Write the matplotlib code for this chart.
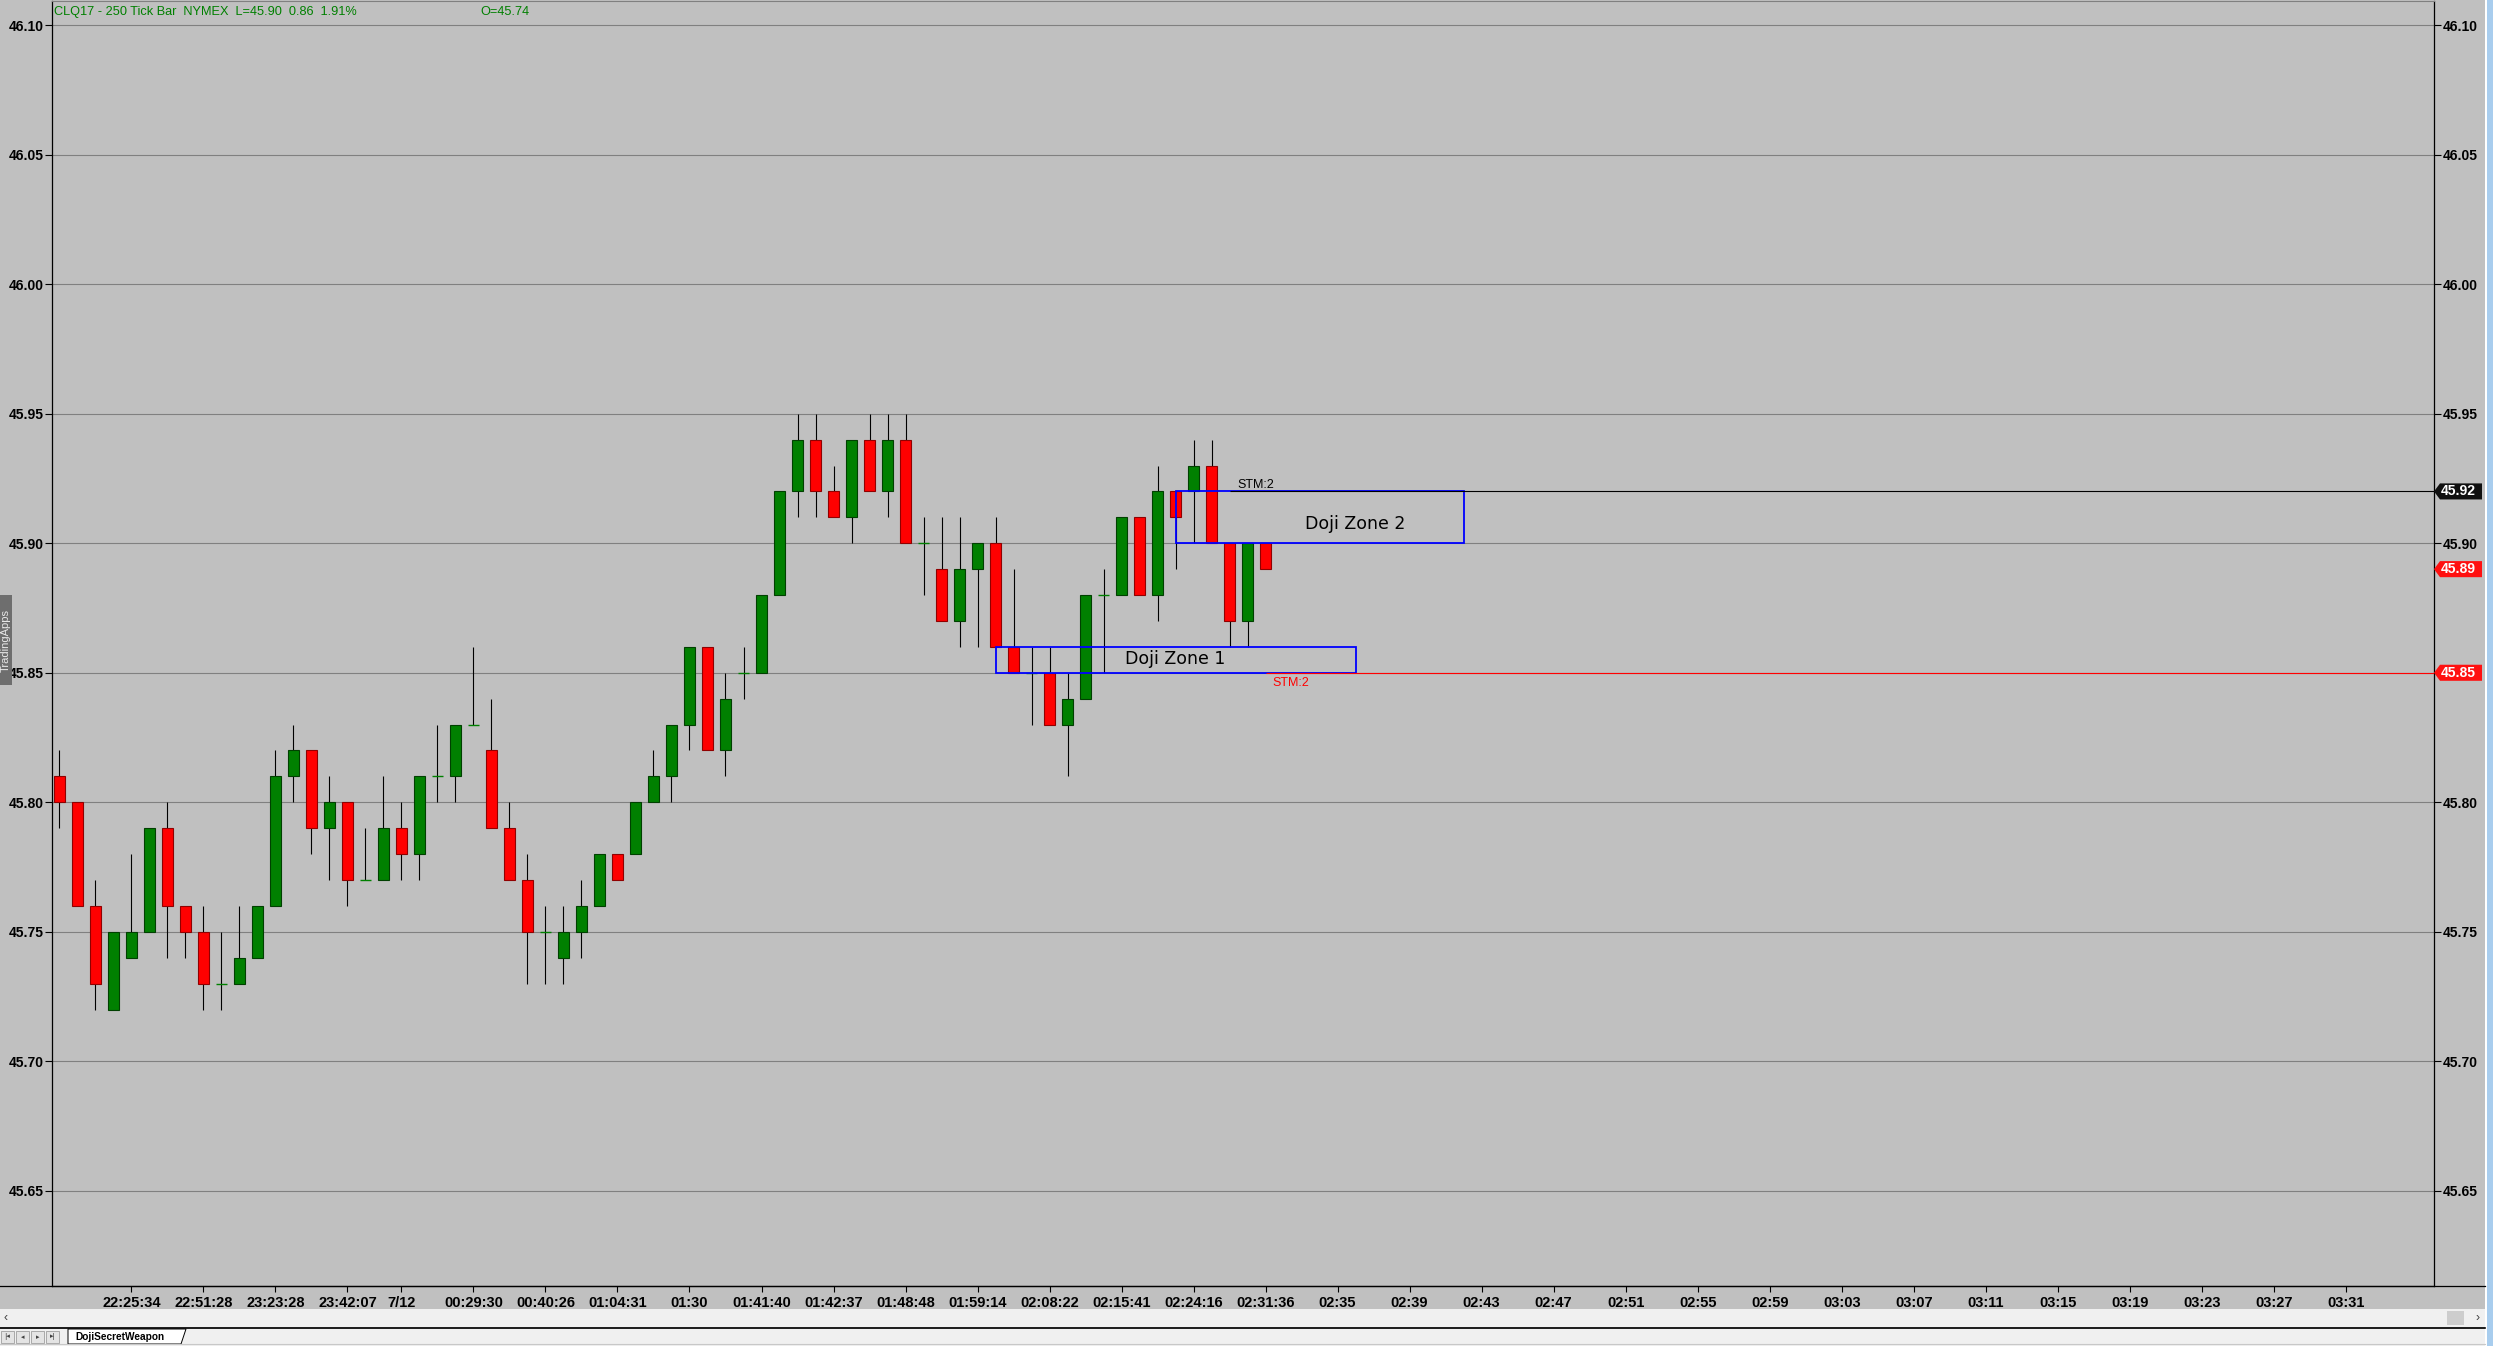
"""Recreate the CLQ17 250-tick candlestick chart with the two doji zones."""

import matplotlib
matplotlib.use("Agg")
import matplotlib.pyplot as plt
import matplotlib.transforms as mtransforms
from matplotlib.lines import Line2D
from matplotlib.patches import Polygon, Rectangle
import numpy as np

W, H = 2493, 1346

# --- OHLC per bar (bar 0 = leftmost) ---------------------------------------
opens = [45.81, 45.80, 45.76, 45.72, 45.74, 45.75, 45.79, 45.76, 45.75, 45.73,
         45.73, 45.74, 45.76, 45.81, 45.82, 45.79, 45.80, 45.77, 45.77, 45.79,
         45.78, 45.81, 45.81, 45.83, 45.82, 45.79, 45.77, 45.75, 45.74, 45.75,
         45.76, 45.78, 45.78, 45.80, 45.81, 45.83, 45.86, 45.82, 45.85, 45.85,
         45.88, 45.92, 45.94, 45.92, 45.91, 45.94, 45.92, 45.94, 45.90, 45.89,
         45.87, 45.89, 45.90, 45.86, 45.85, 45.85, 45.83, 45.84, 45.88, 45.88,
         45.91, 45.88, 45.92, 45.92, 45.93, 45.90, 45.87, 45.90]
highs = [45.82, 45.80, 45.77, 45.75, 45.78, 45.79, 45.80, 45.76, 45.76, 45.75,
         45.76, 45.76, 45.82, 45.83, 45.82, 45.81, 45.80, 45.79, 45.81, 45.80,
         45.81, 45.83, 45.83, 45.86, 45.84, 45.80, 45.78, 45.76, 45.76, 45.77,
         45.78, 45.78, 45.80, 45.82, 45.83, 45.86, 45.86, 45.85, 45.86, 45.88,
         45.92, 45.95, 45.95, 45.93, 45.94, 45.95, 45.95, 45.95, 45.91, 45.91,
         45.91, 45.90, 45.91, 45.89, 45.86, 45.86, 45.85, 45.88, 45.89, 45.91,
         45.91, 45.93, 45.92, 45.94, 45.94, 45.90, 45.90, 45.90]
lows = [45.79, 45.76, 45.72, 45.72, 45.74, 45.75, 45.74, 45.74, 45.72, 45.72,
        45.73, 45.74, 45.76, 45.80, 45.78, 45.77, 45.76, 45.77, 45.77, 45.77,
        45.77, 45.80, 45.80, 45.83, 45.79, 45.77, 45.73, 45.73, 45.73, 45.74,
        45.76, 45.77, 45.78, 45.80, 45.80, 45.82, 45.82, 45.81, 45.84, 45.85,
        45.88, 45.91, 45.91, 45.91, 45.90, 45.92, 45.91, 45.90, 45.88, 45.87,
        45.86, 45.86, 45.86, 45.85, 45.83, 45.83, 45.81, 45.84, 45.85, 45.88,
        45.88, 45.87, 45.89, 45.90, 45.90, 45.86, 45.86, 45.89]
closes = [45.80, 45.76, 45.73, 45.75, 45.75, 45.79, 45.76, 45.75, 45.73, 45.73,
          45.74, 45.76, 45.81, 45.82, 45.79, 45.80, 45.77, 45.77, 45.79, 45.78,
          45.81, 45.81, 45.83, 45.83, 45.79, 45.77, 45.75, 45.75, 45.75, 45.76,
          45.78, 45.77, 45.80, 45.81, 45.83, 45.86, 45.82, 45.84, 45.85, 45.88,
          45.92, 45.94, 45.92, 45.91, 45.94, 45.92, 45.94, 45.90, 45.90, 45.87,
          45.89, 45.90, 45.86, 45.85, 45.85, 45.83, 45.84, 45.88, 45.88, 45.91,
          45.88, 45.92, 45.91, 45.93, 45.90, 45.87, 45.90, 45.89]

# --- time axis ---------------------------------------------------------------
tick_bars = [4, 8, 12, 16, 19, 23, 27, 31, 35, 39, 43, 47, 51, 55, 59, 63, 67,
             71, 75, 79, 83, 87, 91, 95, 99, 103, 107, 111, 115, 119, 123, 127]
tick_labels = ["22:25:34", "22:51:28", "23:23:28", "23:42:07", "7/12",
               "00:29:30", "00:40:26", "01:04:31", "01:30", "01:41:40",
               "01:42:37", "01:48:48", "01:59:14", "02:08:22", "02:15:41",
               "02:24:16", "02:31:36", "02:35", "02:39", "02:43", "02:47",
               "02:51", "02:55", "02:59", "03:03", "03:07", "03:11", "03:15",
               "03:19", "03:23", "03:27", "03:31"]

price_ticks = [45.65, 45.70, 45.75, 45.80, 45.85, 45.90, 45.95, 46.00, 46.05, 46.10]

# --- drawings ----------------------------------------------------------------
zone_names = ["Doji Zone 1", "Doji Zone 2"]
zone_start = [52, 62]
zone_end = [72, 78]
zone_low = [45.85, 45.90]
zone_high = [45.86, 45.92]
zone_text_x = [62, 72]
zone_text_y = [45.8554, 45.9073]

stm_prices = [45.92, 45.85]
stm_start = [65, 67]
stm_colors = ["black", "red"]

marker_prices = [45.92, 45.89, 45.85]
marker_colors = ["#101010", "#ff1010", "#ff1010"]

header_left = "CLQ17 - 250 Tick Bar  NYMEX  L=45.90  0.86  1.91%"
header_right = "O=45.74"

BG = "#c0c0c0"
PANEL = "#f0f0f0"
GREEN = "#008000"
RED = "#ff0000"

plt.rcParams["font.family"] = ["Liberation Sans", "DejaVu Sans"]


def fig_rect(fig, x0, y0, x1, y1, color, **kw):
    """Rectangle in figure pixels, origin top-left."""
    fig.patches.append(Rectangle((x0 / W, 1 - y1 / H), (x1 - x0) / W, (y1 - y0) / H,
                                 transform=fig.transFigure, facecolor=color,
                                 edgecolor=kw.pop("edgecolor", "none"), **kw))


def fig_hline(fig, x0, x1, y, color, lw):
    fig.lines.append(Line2D([x0 / W, x1 / W], [1 - y / H, 1 - y / H],
                            transform=fig.transFigure, color=color, lw=lw))


def main():
    fig = plt.figure(figsize=(W / 100, H / 100), dpi=100, facecolor=BG)
    ax = fig.add_axes([52 / W, 1 - 1286 / H, (2434 - 52) / W, (1286 - 1) / H])
    ax.set_facecolor(BG)
    ax.set_xlim(-0.41, 131.9)
    ax.set_ylim(45.6133, 46.1093)

    # grid + axes
    ax.set_axisbelow(True)
    ax.set_yticks(price_ticks, [f"{p:.2f}" for p in price_ticks], fontweight="bold")
    ax.yaxis.grid(True, color="#808080", lw=0.8)
    ax.tick_params(axis="y", left=True, right=True, labelleft=True, labelright=True,
                   length=5, width=0.8, pad=1, labelsize=10)
    ax.set_xticks(tick_bars, tick_labels, fontweight="bold")
    ax.tick_params(axis="x", length=4, width=0.8, pad=3, labelsize=10.5)
    for side in ("left", "right", "bottom"):
        ax.spines[side].set_color("black")
        ax.spines[side].set_linewidth(0.9)
    ax.spines["top"].set_color("#808080")

    # candles
    x = np.arange(len(opens))
    o, h, l, c = map(np.array, (opens, highs, lows, closes))
    ax.vlines(x, l, h, color="black", lw=0.8, zorder=2)
    up = c > o
    dn = c < o
    ax.bar(x[up], (c - o)[up], bottom=o[up], width=0.57, color=GREEN,
           edgecolor="#004000", lw=0.8, zorder=3)
    ax.bar(x[dn], (o - c)[dn], bottom=c[dn], width=0.57, color=RED,
           edgecolor="#900000", lw=0.8, zorder=3)
    flat = c == o
    ax.hlines(c[flat], x[flat] - 0.3, x[flat] + 0.3, color=GREEN, lw=1.0, zorder=3)

    # doji zones
    for name, x0, x1, lo, hi, tx, ty in zip(zone_names, zone_start, zone_end,
                                            zone_low, zone_high, zone_text_x,
                                            zone_text_y):
        ax.add_patch(Rectangle((x0, lo), x1 - x0, hi - lo, fill=False,
                               edgecolor="#0000ff", lw=1.3, zorder=4))
        ax.text(tx, ty, name, family="DejaVu Sans", fontsize=12.5,
                ha="center", va="center", zorder=5)

    # STM lines
    for p, x0, col in zip(stm_prices, stm_start, stm_colors):
        ax.hlines(p, x0, 131.9, color=col, lw=0.8, zorder=4)
    ax.text(65.45, 45.9213, "STM:2", fontsize=9, color="black", va="baseline")
    ax.text(67.4, 45.8485, "STM:2", fontsize=9, color="red", va="top")

    # price markers on the right scale
    blend = mtransforms.blended_transform_factory(fig.transFigure, ax.transData)
    half = 0.0031
    for p, col in zip(marker_prices, marker_colors):
        pts = [(2434 / W, p), (2440 / W, p + half), (2482 / W, p + half),
               (2482 / W, p - half), (2440 / W, p - half)]
        ax.add_patch(Polygon(pts, closed=True, transform=blend, facecolor=col,
                             edgecolor="none", clip_on=False, zorder=6))
        ax.text(2441 / W, p, f"{p:.2f}", transform=blend, color="white",
                fontweight="bold", fontsize=10, va="center", ha="left",
                clip_on=False, zorder=7)

    # header
    fig.text(54 / W, 1 - 12 / H, header_left, color=GREEN, fontsize=9.2, va="center")
    fig.text(480 / W, 1 - 12 / H, header_right, color=GREEN, fontsize=9.2, va="center")

    # window chrome: bottom axis line, scrollbar, tab strip, right border
    fig_hline(fig, 0, 2485, 1286, "black", 0.9)
    fig_rect(fig, 0, 1309, 2485, 1327, PANEL)
    fig_rect(fig, 2447, 1311, 2464, 1325, "#cdcdcd")
    fig.text(4 / W, 1 - 1318 / H, "‹", fontsize=9, va="center", color="#404040")
    fig.text(2475 / W, 1 - 1318 / H, "›", fontsize=9, va="center", color="#404040")
    fig_hline(fig, 0, 2485, 1328, "black", 1.2)
    fig_rect(fig, 0, 1329, 2485, 1346, PANEL)
    fig_hline(fig, 0, 2485, 1344, "#c8c8c8", 0.8)
    for i, glyph in enumerate(["|◂", "◂", "▸", "▸|"]):
        fig_rect(fig, 1 + 15 * i, 1331, 14 + 15 * i, 1343, "#e4e4e4",
                 edgecolor="#909090", lw=0.5)
        fig.text((7.5 + 15 * i) / W, 1 - 1337 / H, glyph, family="DejaVu Sans",
                 fontsize=5, ha="center", va="center", color="#404040")
    tab = [(68 / W, 1 - 1329 / H), (186 / W, 1 - 1329 / H),
           (181 / W, 1 - 1344 / H), (68 / W, 1 - 1344 / H)]
    fig.patches.append(Polygon(tab, closed=True, transform=fig.transFigure,
                               facecolor="white", edgecolor="black", lw=0.7))
    fig.text(75 / W, 1 - 1337 / H, "DojiSecretWeapon", fontsize=7.3,
             fontweight="bold", va="center")
    fig_rect(fig, 2485, 0, 2487, H, "white")
    fig_rect(fig, 2487, 0, W, H, "#a8cdee")

    # side tab
    fig_rect(fig, 0, 595, 12, 685, "#6e6e6e")
    fig.text(6 / W, 1 - 640 / H, "TradingApps", color="#e8e8e8", fontsize=8,
             rotation=90, ha="center", va="center")

    fig.savefig("out.png", dpi=100, facecolor=BG)


if __name__ == "__main__":
    main()
